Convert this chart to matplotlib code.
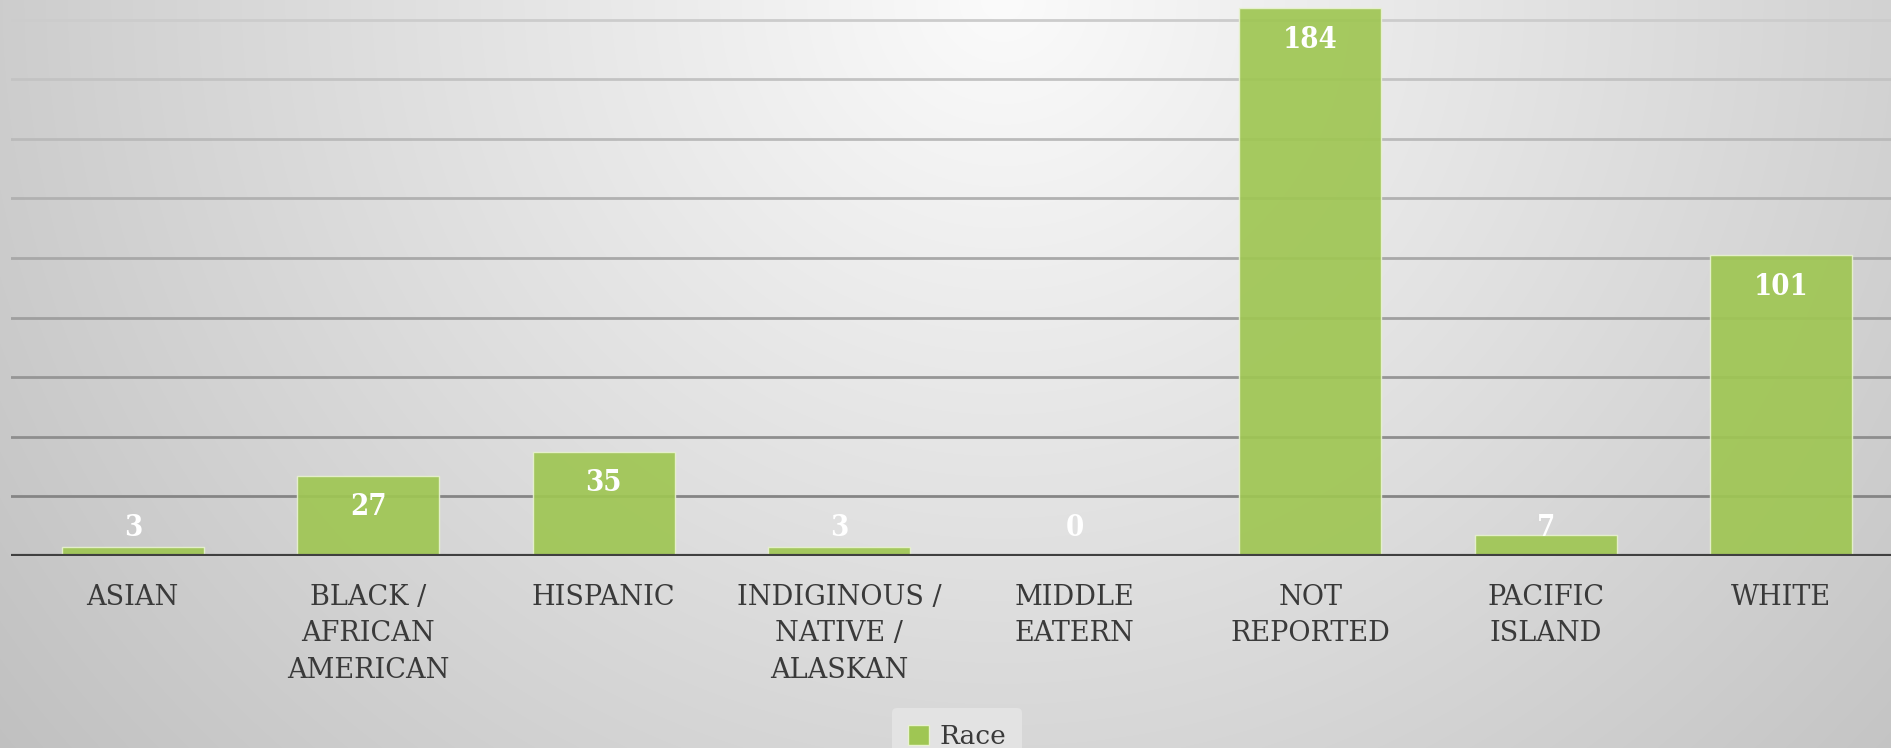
import numpy as np
import matplotlib
matplotlib.use("Agg")
import matplotlib.pyplot as plt
from matplotlib.patches import Patch

# chart data
categories = ["ASIAN", "BLACK /\nAFRICAN\nAMERICAN", "HISPANIC", "INDIGINOUS /\nNATIVE /\nALASKAN",
              "MIDDLE\nEATERN", "NOT\nREPORTED", "PACIFIC\nISLAND", "WHITE"]
counts = [3, 27, 35, 3, 0, 184, 7, 101]
series_name = "Race"
grid_ticks = [20, 40, 60, 80, 100, 120, 140, 160, 180]

W, H = 1891, 748
fig = plt.figure(figsize=(W / 100, H / 100), dpi=100)

# radial grey background, lightest at the top middle
bg = fig.add_axes([0, 0, 1, 1], zorder=-10)
yy, xx = np.mgrid[0:H, 0:W]
d = np.sqrt((xx - 0.53 * W) ** 2 + (yy * 1.05) ** 2)
shade = np.clip(251 - 46 * d / 1000.0, 190, 252) / 255.0
bg.imshow(np.dstack([shade, shade, shade]), extent=[0, 1, 0, 1], aspect="auto", origin="upper")
bg.axis("off")

ax = fig.add_axes([11 / W, 1 - 556 / H, 1 - 11 / W, 556 / H])
ax.patch.set_alpha(0)

x = np.arange(len(categories))
ax.bar(x, counts, width=0.604, color="#9fc653", alpha=0.92,
       edgecolor="#e8f2d0", linewidth=1.0, zorder=3)

ax.set_ylim(0, 186.6)
ax.set_xlim(-0.517, 7.466)
ax.set_yticks([])
# gridlines fade from dark near the baseline to light at the top
shades = np.linspace(0.52, 0.80, len(grid_ticks))
for gy, g in zip(grid_ticks, shades):
    ax.axhline(gy, color=(g, g, g), linewidth=2, zorder=1)
ax.axhline(0, color="#404040", linewidth=3, zorder=5)
for s in ax.spines.values():
    s.set_visible(False)

ax.set_xticks(x)
ax.set_xticklabels(categories, family="DejaVu Serif", fontsize=19.5,
                   color="#3a3a3a", linespacing=1.45)
ax.tick_params(axis="x", length=0, pad=20)

# value labels inside the end of each bar, pushed above for short bars
for xi, v in zip(x, counts):
    ly = max(v - 10.5, 9.7)
    ax.text(xi, ly, str(v), ha="center", va="center", color="white",
            family="DejaVu Serif", fontstretch="condensed", fontweight="bold",
            fontsize=21, zorder=6)

leg = fig.legend(handles=[Patch(facecolor="#9fc653", edgecolor="#e8f2d0", label=series_name)],
                 loc="lower center", bbox_to_anchor=(0.506, -0.04), frameon=True,
                 prop={"family": "DejaVu Serif", "size": 19}, handlelength=0.8,
                 handleheight=0.8, handletextpad=0.4, borderpad=0.6)
leg.get_frame().set_facecolor("#e3e3e3")
leg.get_frame().set_edgecolor("none")
leg.get_frame().set_alpha(1)
for t in leg.get_texts():
    t.set_color("#3a3a3a")

fig.savefig("out.png", dpi=100)
